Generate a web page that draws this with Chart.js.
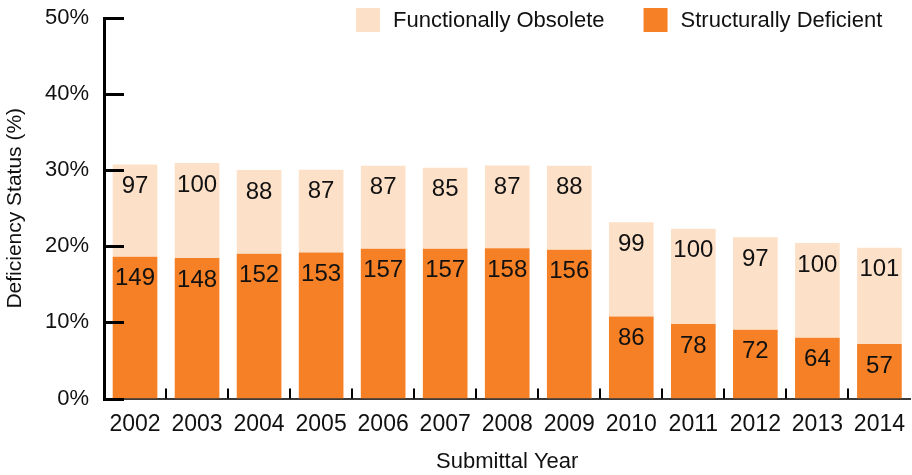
<!DOCTYPE html>
<html>
<head>
<meta charset="utf-8">
<title>Deficiency Status by Submittal Year</title>
<script src="https://cdn.jsdelivr.net/npm/chart.js@4/dist/chart.umd.min.js"></script>
<style>
  html, body { margin: 0; padding: 0; overflow: hidden; background: #ffffff; }
  #wrap { position: relative; width: 917px; height: 475px; }
</style>
</head>
<body>
<div id="wrap"><canvas id="chart"></canvas></div>
<script>
// Submittal years on the x axis
const years = ['2002', '2003', '2004', '2005', '2006', '2007', '2008', '2009', '2010', '2011', '2012', '2013', '2014'];

// Bridge counts per deficiency status (printed on the bars)
const structurallyDeficient = [149, 148, 152, 153, 157, 157, 158, 156, 86, 78, 72, 64, 57];
const functionallyObsolete = [97, 100, 88, 87, 87, 85, 87, 88, 99, 100, 97, 100, 101];

// Bridges reported in each submittal year (denominator for the percentages)
const bridgesReported = [800, 801, 799, 798, 798, 798, 800, 798, 799, 798, 798, 803, 797];

// Y axis tick values (percent)
const percentTicks = [0, 10, 20, 30, 40, 50];

const seriesNames = ['Structurally Deficient', 'Functionally Obsolete'];
const seriesColors = ['#F58025', '#FDE0C8'];

const toPercent = (counts) => counts.map((c, i) => c / bridgesReported[i] * 100);

const FONT = "'Liberation Sans', Arial, Helvetica, sans-serif";
const INK = '#111111';
Chart.defaults.font.family = FONT;
Chart.defaults.color = INK;

// Count labels near the top of every bar segment
const barLabels = {
  id: 'barLabels',
  afterDatasetsDraw(chart) {
    const ctx = chart.ctx;
    ctx.save();
    ctx.font = '24px ' + FONT;
    ctx.fillStyle = INK;
    ctx.textAlign = 'center';
    ctx.textBaseline = 'middle';
    chart.data.datasets.forEach((ds, di) => {
      const meta = chart.getDatasetMeta(di);
      meta.data.forEach((bar, i) => {
        ctx.fillText(String(ds.counts[i]), bar.x, bar.y + 22);
      });
    });
    ctx.restore();
  }
};

// Inward tick marks on both axes
const inwardTicks = {
  id: 'inwardTicks',
  afterDraw(chart) {
    const ctx = chart.ctx;
    const area = chart.chartArea;
    const y = chart.scales.y;
    const x = chart.scales.x;
    ctx.save();
    ctx.strokeStyle = '#000000';
    ctx.lineCap = 'butt';
    ctx.lineWidth = 3;
    percentTicks.forEach(v => {
      const py = Math.round(y.getPixelForValue(v)) + 0.5;
      ctx.beginPath();
      ctx.moveTo(area.left - 1, py);
      ctx.lineTo(area.left + 20, py);
      ctx.stroke();
    });
    ctx.lineWidth = 2;
    for (let i = 1; i < years.length; i++) {
      const px = Math.round((x.getPixelForTick(i - 1) + x.getPixelForTick(i)) / 2);
      ctx.beginPath();
      ctx.moveTo(px, area.bottom - 10);
      ctx.lineTo(px, area.bottom);
      ctx.stroke();
    }
    ctx.restore();
  }
};

// Legend row in the upper right, listing the top segment first
const cornerLegend = {
  id: 'cornerLegend',
  afterDraw(chart) {
    const ctx = chart.ctx;
    ctx.save();
    ctx.font = '22px ' + FONT;
    ctx.textBaseline = 'middle';
    ctx.textAlign = 'left';
    let cx = 356;
    const boxTop = 8, box = 24;
    const items = chart.data.datasets.slice().reverse();
    items.forEach(ds => {
      ctx.fillStyle = ds.backgroundColor;
      ctx.fillRect(cx, boxTop, box, box);
      ctx.fillStyle = INK;
      ctx.fillText(ds.label, cx + box + 13, boxTop + box / 2 + 1);
      cx += box + 13 + ctx.measureText(ds.label).width + 39;
    });
    ctx.restore();
  }
};

new Chart(document.getElementById('chart'), {
  type: 'bar',
  data: {
    labels: years,
    datasets: [
      {
        label: seriesNames[0],
        data: toPercent(structurallyDeficient),
        counts: structurallyDeficient,
        backgroundColor: seriesColors[0],
        barPercentage: 0.72,
        categoryPercentage: 1.0
      },
      {
        label: seriesNames[1],
        data: toPercent(functionallyObsolete),
        counts: functionallyObsolete,
        backgroundColor: seriesColors[1],
        barPercentage: 0.72,
        categoryPercentage: 1.0
      }
    ]
  },
  options: {
    responsive: true,
    maintainAspectRatio: false,
    animation: false,
    layout: { padding: { top: 18, left: 0, right: 0, bottom: 0 } },
    plugins: {
      legend: { display: false },
      tooltip: { enabled: false }
    },
    scales: {
      x: {
        stacked: true,
        grid: { display: false, drawTicks: false },
        border: { display: true, color: '#3a3a3a', width: 2 },
        ticks: { padding: 12, font: { size: 23 }, color: INK },
        title: {
          display: true,
          text: 'Submittal Year',
          font: { size: 22 },
          color: INK,
          padding: { top: 0, bottom: 0 }
        },
        afterFit(scale) { scale.height = 76.5; }
      },
      y: {
        stacked: true,
        min: 0,
        max: 50,
        grid: { display: false, drawTicks: false },
        border: { display: true, color: '#000000', width: 3 },
        afterBuildTicks(scale) { scale.ticks = percentTicks.map(v => ({ value: v })); },
        ticks: {
          padding: 15,
          font: { size: 22 },
          color: INK,
          callback: (v) => v + '%'
        },
        title: {
          display: true,
          text: 'Deficiency Status (%)',
          font: { size: 21 },
          color: INK,
          padding: { top: 3, bottom: 0 }
        },
        afterFit(scale) {
          scale.width = 104;
          scale.paddingTop = 0;
          scale.paddingBottom = 0;
        }
      }
    }
  },
  plugins: [barLabels, inwardTicks, cornerLegend]
});
</script>
</body>
</html>
